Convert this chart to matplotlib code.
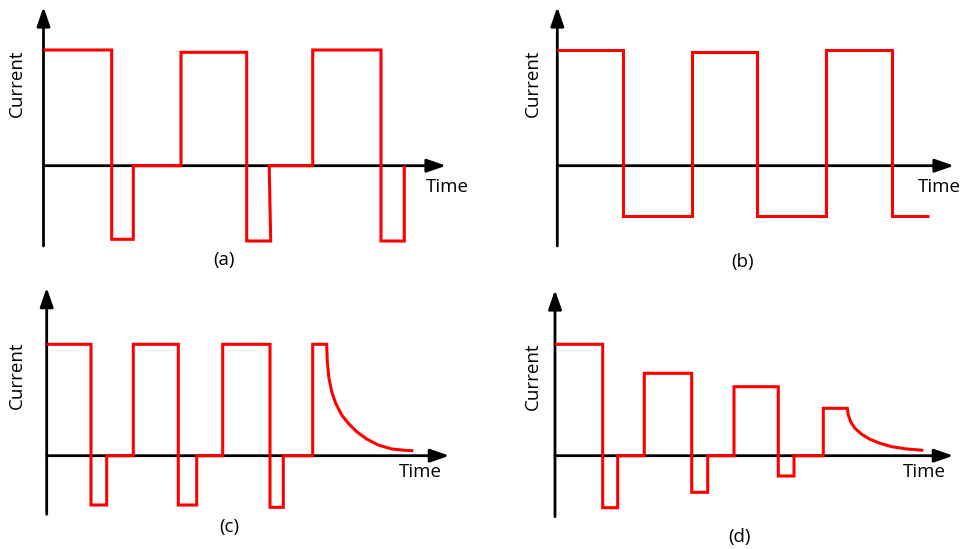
import matplotlib.pyplot as plt

plt.rcParams['font.family'] = ['Open Sans', 'DejaVu Sans']

# step waveforms: switching times and the current level held after each one
# (arbitrary units; positive current is up)
a_edges = [0, 68.2, 89.8, 137.5, 203.2, 225.7, 269.2, 337.5, 360.8]
a_levels = [115.7, -73.6, 0, 113.4, -75.3, 0, 115.7, -75.3, 0]

b_edges = [0, 66, 134.4, 200, 268.4, 335, 372]
b_levels = [115.7, -50, 113.4, -50, 115.7, -50]

c_edges = [0, 44.3, 60, 86.6, 131.6, 150, 176, 223.3, 236.6, 266, 280]
c_levels = [111.4, -49.3, 0, 111.4, -49.3, 0, 111.4, -51.6, 0, 111.4]
c_decay_t = [280, 280.6, 282.3, 285, 289, 295, 301.6, 310, 320, 331.6, 345, 358.3, 366.6]
c_decay_i = [111.4, 94, 77.4, 64, 52.4, 40.7, 32.4, 24, 16.7, 10.7, 6.7, 5.4, 5]

d_edges = [0, 47.7, 62.7, 89.3, 136.7, 152.7, 179, 223.3, 239, 268.3, 292.3]
d_levels = [111.4, -52, 0, 82.4, -36.6, 0, 69, -20.3, 0, 47.4]
d_decay_t = [292.3, 293.3, 295.7, 300, 306.7, 315, 325, 336.7, 351.7, 368.3]
d_decay_i = [47.4, 40.7, 34, 27.4, 21.4, 16.4, 12.4, 9, 6.7, 5.4]

# layout: axis origin in pixels, y-axis below/above origin, x-axis length, label spots
panels = [
    dict(name='(a)', org=(43.5, 165.7), ylo=80.3, yhi=158.7, xlen=402.5,
         cur=(17, 83), time=(447, 187), lab=(224, 260),
         edges=a_edges, levels=a_levels, decay=None),
    dict(name='(b)', org=(557.3, 165.7), ylo=80.3, yhi=158.7, xlen=396.7,
         cur=(533, 83), time=(939, 187), lab=(742.7, 262),
         edges=b_edges, levels=b_levels, decay=None),
    dict(name='(c)', org=(46.7, 455.7), ylo=58.6, yhi=168, xlen=402.6,
         cur=(16.7, 375), time=(420, 471.7), lab=(229.3, 526.7),
         edges=c_edges, levels=c_levels, decay=(c_decay_t, c_decay_i)),
    dict(name='(d)', org=(555, 455.7), ylo=61, yhi=165.7, xlen=398.3,
         cur=(533.3, 376.7), time=(924.3, 471.7), lab=(739.3, 536.7),
         edges=d_edges, levels=d_levels, decay=(d_decay_t, d_decay_i)),
]

W, H = 962, 549
fig = plt.figure(figsize=(W / 100, H / 100), dpi=100)

arrow = dict(arrowstyle='-|>,head_length=1.15,head_width=0.4', lw=2,
             color='black', mutation_scale=10, shrinkA=0, shrinkB=0)

for p in panels:
    ox, oy = p['org']
    # one axes per panel over the whole figure, 1 unit = 1 pixel from its origin
    ax = fig.add_axes([0, 0, 1, 1])
    ax.set_xlim(-ox, W - ox)
    ax.set_ylim(-(H - oy), oy)
    ax.axis('off')
    ax.patch.set_alpha(0)

    # axes with arrow heads
    ax.annotate('', xy=(0, p['yhi']), xytext=(0, -p['ylo']), arrowprops=arrow)
    ax.annotate('', xy=(p['xlen'], 0), xytext=(0, 0), arrowprops=arrow)

    # waveform vertices from edges/levels
    ts, vs = [], []
    e, lv = p['edges'], p['levels']
    for k in range(len(lv)):
        if k > 0:
            ts.append(e[k])
            vs.append(lv[k - 1])
        ts.append(e[k])
        vs.append(lv[k])
        if k + 1 < len(e):
            ts.append(e[k + 1])
            vs.append(lv[k])
    if p['decay'] is not None:
        ts += p['decay'][0][1:]
        vs += p['decay'][1][1:]
    if p['name'] == '(a)':
        # slightly slanted rising edge of the second negative pulse
        idx = ts.index(225.7)
        ts[idx] = 224.2
        ts[idx + 1] = 227.2
    ax.plot(ts, vs, color='#ff0000', lw=2.2, solid_joinstyle='miter',
            solid_capstyle='butt', zorder=3)

    fig.text(p['cur'][0] / W, 1 - p['cur'][1] / H, 'Current', rotation=90,
             ha='center', va='center', fontsize=13.5)
    fig.text(p['time'][0] / W, 1 - p['time'][1] / H, 'Time',
             ha='center', va='center', fontsize=13.5)
    fig.text(p['lab'][0] / W, 1 - p['lab'][1] / H, p['name'],
             ha='center', va='center', fontsize=13.5)

fig.savefig('out.png', dpi=100)
